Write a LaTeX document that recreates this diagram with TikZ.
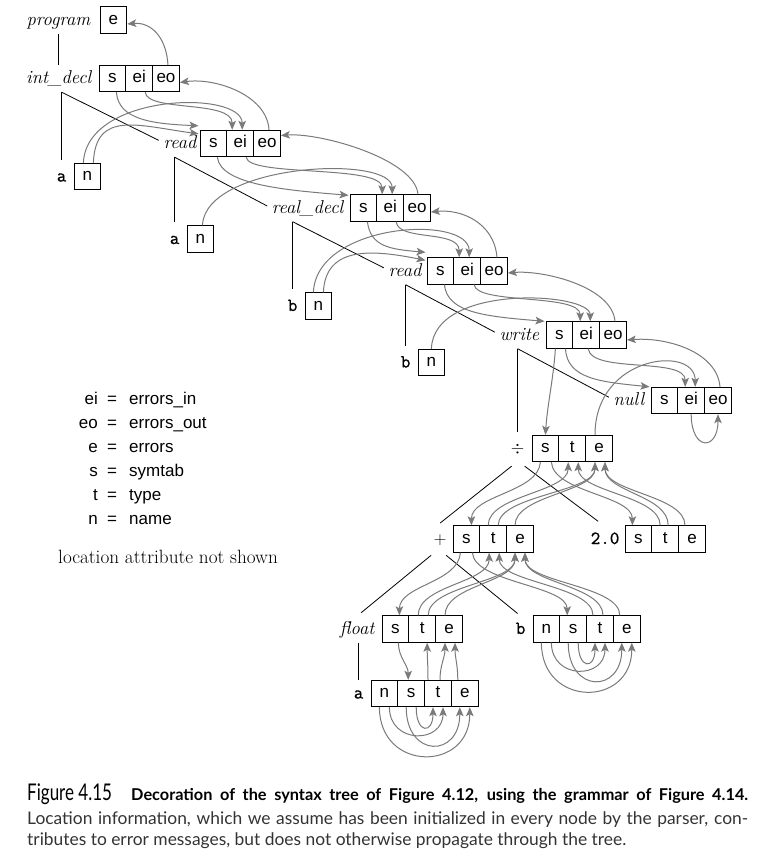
\documentclass[tikz,border=0pt]{standalone}
\usepackage{fontspec}
\setsansfont{Liberation Sans}
\newfontfamily\capfont{Lato}
\newfontfamily\tokfont{Latin Modern Mono}[AutoFakeBold=1]
\usetikzlibrary{arrows.meta}
\begin{document}
\begin{tikzpicture}[x=1pt,y=-1pt,
    cell/.style={draw,line width=0.9pt,minimum width=26.8pt,minimum height=26.5pt,inner sep=0pt,
      text height=10pt,text depth=1.4pt,font=\sffamily\fontsize{17}{20}\selectfont},
    nt/.style={inner sep=1pt,anchor=base east,font=\itshape\fontsize{18.6}{20}\selectfont},
    tok/.style={inner sep=1pt,anchor=base east,font=\tokfont\bfseries\fontsize{18.5}{20}\selectfont},
    key/.style={inner sep=0pt,font=\sffamily\fontsize{17}{20}\selectfont},
    tree/.style={line width=0.8pt},
    dep/.style={black!52,line width=1pt,-{Stealth[length=9pt,width=7.5pt,inset=2pt]}}]
  \useasboundingbox (0,0) rectangle (778,862);
  % attribute boxes: name / left edge / centre y / attributes
  \foreach \nd/\lx/\cy/\attrs in {pg/100/20/{e},id/99/78.5/{s,ei,eo},an1/74/176.5/{n},
      r1/200/143.5/{s,ei,eo},an2/187/239/{n},rd/350/208/{s,ei,eo},r2/427/271/{s,ei,eo},
      bn1/305/306/{n},wr/546/335/{s,ei,eo},bn2/418/362.5/{n},nl/651/400.5/{s,ei,eo},
      dv/532/448.5/{s,t,e},pl/453/539/{s,t,e},tw/625/539/{s,t,e},fl/382/629/{s,t,e},
      bv/533/629/{n,s,t,e},av/371/693.5/{n,s,t,e}}
    \foreach \a [count=\i] in \attrs
      \node[cell] (\nd-\a) at ({\lx+26.8*\i-13.4},\cy) {\a};
  % node labels
  \foreach \nd/\c/\g/\st/\txt in {pg/e/8/nt/program,id/s/6/nt/int\_decl,r1/s/2/nt/read,
      rd/s/5/nt/real\_decl,r2/s/4/nt/read,wr/s/5/nt/write,nl/s/5/nt/null,fl/s/6/nt/float,
      dv/s/6/nt/$\div$,pl/s/5/nt/$+$,tw/s/4/tok/2.0,bv/n/6/tok/b,av/n/6/tok/a,
      an1/n/6/tok/a,an2/n/6/tok/a,bn1/n/6/tok/b,bn2/n/6/tok/b}
    \node[\st] (\nd) at ([xshift=-\g pt,yshift=-5pt]\nd-\c.west) {\txt};
  % tree edges
  \draw[tree] (id |- pg-e.south) -- (id |- id-s.north);
  \foreach \p/\l/\lc/\k in {id/an1/n/r1,r1/an2/n/rd,rd/bn1/n/r2,r2/bn2/n/wr,wr/dv/s/nl}{
    \draw[tree,shorten >=3pt] (\l |- \p-s.south) -- (\l |- \l-\lc.north);
    \draw[tree,shorten >=4pt] (\l |- \p-s.south) -- (\k.west);}
  \draw[tree] ([xshift=-6pt,yshift=-10pt]dv.south) -- ([yshift=10pt]pl.north);
  \draw[tree] ([xshift=7pt,yshift=-10pt]dv.south) -- ([xshift=-7pt,yshift=10pt]tw.north);
  \draw[tree] ([xshift=-9pt,yshift=-9pt]pl.south) -- ([xshift=4pt,yshift=7pt]fl.north);
  \draw[tree] ([xshift=6pt,yshift=-9pt]pl.south) -- ([xshift=-3pt,yshift=8pt]bv.north);
  \draw[tree] (av |- fl-s.south) -- (av |- av-n.north);
  % attribute flow: declarations and statements
  \draw[dep] ([xshift=2pt]id-eo.north) .. controls +(-2,-30) and +(22,-2) .. ([yshift=-4pt]pg-e.east);
  \draw[dep] ([xshift=4pt]id-s.south) .. controls +(2,28) and +(-45,-2) .. ([xshift=-1pt,yshift=4pt]r1-s.north west);
  \draw[dep] ([xshift=6pt]id-ei.south) .. controls +(2,20) and +(0,-30) .. ([xshift=-8pt]r1-ei.north);
  \draw[dep] ([xshift=-4pt]an1-n.north) .. controls +(3,-70) and +(0,-40) .. ([xshift=2pt]r1-ei.north);
  \draw[dep] ([xshift=6pt]an1-n.north) .. controls +(2,-53) and +(-60,-8) .. ([xshift=-1pt,yshift=-4pt]r1-s.north west);
  \draw[dep] ([xshift=2pt]r1-eo.north) .. controls +(-2,-35) and +(35,-5) .. ([yshift=-4pt]id-eo.east);
  %
  \draw[dep] ([xshift=4pt]r1-s.south) .. controls +(3,28) and +(-60,-5) .. ([xshift=-1pt,yshift=-1pt]rd-s.north west);
  \draw[dep] ([xshift=6pt]r1-ei.south) .. controls +(2,20) and +(0,-30) .. ([xshift=-8pt]rd-ei.north);
  \draw[dep] ([xshift=2pt]an2-n.north) .. controls +(3,-62) and +(0,-40) .. ([xshift=2pt]rd-ei.north);
  \draw[dep] ([xshift=1pt]rd-eo.north) .. controls +(-3,-35) and +(40,-3) .. ([yshift=8pt]r1-eo.east);
  %
  \draw[dep] ([xshift=4pt]rd-s.south) .. controls +(3,25) and +(-35,-3) .. ([xshift=-1pt,yshift=5pt]r2-s.north west);
  \draw[dep] ([xshift=6pt]rd-ei.south) .. controls +(2,20) and +(0,-28) .. ([xshift=-8pt]r2-ei.north);
  \draw[dep] ([xshift=-5pt]bn1-n.north) .. controls +(3,-70) and +(0,-43) .. ([xshift=2pt]r2-ei.north);
  \draw[dep] ([xshift=5pt]bn1-n.north) .. controls +(2,-48) and +(-50,-10) .. ([xshift=-1pt,yshift=-3pt]r2-s.north west);
  \draw[dep] ([xshift=3pt]r2-eo.north) .. controls +(-3,-35) and +(30,-3) .. ([yshift=-4pt]rd-eo.east);
  %
  \draw[dep] ([xshift=4pt]r2-s.south) .. controls +(3,28) and +(-60,-5) .. ([xshift=-1pt]wr-s.north west);
  \draw[dep] ([xshift=7pt]r2-ei.south) .. controls +(2,20) and +(0,-28) .. ([xshift=-6pt]wr-ei.north);
  \draw[dep] (bn2-n.north) .. controls +(2,-66) and +(0,-29) .. ([xshift=4pt]wr-ei.north);
  \draw[dep] ([xshift=2pt]wr-eo.north) .. controls +(-3,-35) and +(35,-3) .. ([yshift=-2pt]r2-eo.east);
  %
  \draw[dep] ([xshift=-4pt]wr-s.south) .. controls +(-2,30) and +(2,-30) .. (dv-s.north);
  \draw[dep] ([xshift=6pt]wr-s.south) .. controls +(2,30) and +(-50,-5) .. ([xshift=-1pt]nl-s.north west);
  \draw[dep] ([xshift=2pt]wr-ei.south) .. controls +(3,25) and +(0,-30) .. ([xshift=-6pt]nl-ei.north);
  \draw[dep] ([xshift=-4pt]dv-e.north) .. controls +(0,-80) and +(0,-42) .. ([xshift=4pt]nl-ei.north);
  \draw[dep] ([xshift=2pt]nl-eo.north) .. controls +(-3,-35) and +(40,-3) .. ([yshift=-5pt]wr-eo.east);
  \draw[dep] (nl-ei.south) .. controls +(0,37) and +(0,37) .. (nl-eo.south);
  % attribute flow: expression
  \draw[dep] ([xshift=-5pt]dv-s.south) .. controls +(-2,30) and +(0,-30) .. ([xshift=5pt]pl-s.north);
  \draw[dep] ([xshift=6pt]dv-s.south) .. controls +(2,30) and +(0,-30) .. ([xshift=-6pt]tw-s.north);
  \foreach \f/\fx/\t/\tx in {t/-5/t/-4,t/5/e/-4,e/-5/e/-4}
    \draw[dep] ([xshift=\fx pt]pl-\f.north) .. controls +(0,-30) and +(0,30) .. ([xshift=\tx pt]dv-\t.south);
  \foreach \f/\fx/\t/\tx in {t/-5/t/6,t/3/e/6,e/-7/e/6}
    \draw[dep] ([xshift=\fx pt]tw-\f.north) .. controls +(0,-30) and +(0,30) .. ([xshift=\tx pt]dv-\t.south);
  \draw[dep] ([xshift=-6pt]pl-s.south) .. controls +(-2,30) and +(0,-30) .. ([xshift=4pt]fl-s.north);
  \draw[dep] ([xshift=6pt]pl-s.south) .. controls +(2,30) and +(0,-30) .. ([xshift=-6pt]bv-s.north);
  \foreach \f/\fx/\t/\tx in {t/-4/t/-4,t/6/e/-5,e/-4/e/-5}
    \draw[dep] ([xshift=\fx pt]fl-\f.north) .. controls +(0,-30) and +(0,30) .. ([xshift=\tx pt]pl-\t.south);
  \foreach \f/\fx/\t/\tx in {t/-7/t/6,t/3/e/5,e/-7/e/5}
    \draw[dep] ([xshift=\fx pt]bv-\f.north) .. controls +(0,-30) and +(0,30) .. ([xshift=\tx pt]pl-\t.south);
  \draw[dep] ([xshift=3pt]fl-s.south) .. controls +(0,15) and +(0,-15) .. ([xshift=-3pt]av-s.north);
  \foreach \f/\fx/\t/\tx in {t/-10/t/5,t/2/e/-4,e/-7/e/6}
    \draw[dep] ([xshift=\fx pt]av-\f.north) .. controls +(0,-15) and +(0,15) .. ([xshift=\tx pt]fl-\t.south);
  % leaves: type and errors from name and symtab
  \foreach \v in {av,bv}
    \foreach \f/\fx/\t/\tx/\d in {s/5/t/-5/27,n/5/t/5/37,s/-5/e/-5/51,n/-5/e/5/65}
      \draw[dep] ([xshift=\fx pt]\v-\f.south) .. controls +(0,\d) and +(0,\d) .. ([xshift=\tx pt]\v-\t.south);
  % legend
  \foreach \k/\v [count=\i] in {ei/errors\_in,eo/errors\_out,e/errors,s/symtab,t/type,n/name}{
    \node[key,anchor=base east] (k\i) at (98,{380+24*\i}) {\k};
    \node[key,anchor=base] (q\i) at (112,{380+24*\i}) {=};
    \node[key,anchor=base west] (v\i) at (129,{380+24*\i}) {\v};}
  \node[anchor=base west,inner sep=0pt,font=\fontsize{19.2}{22}\selectfont] (note) at (58,563) {location attribute not shown};
  % caption
  \node[anchor=base west,inner sep=0pt] (fig) at (27,800) {\capfont\fontsize{23}{24}\selectfont\scalebox{0.74}[1]{Figure 4.15}};
  \node[anchor=base west,inner sep=0pt] (cap1) at (131,800) {\capfont\bfseries\fontsize{16.3}{18}\selectfont\makebox[617pt][s]{Decoration of the syntax tree of Figure 4.12, using the grammar of Figure 4.14.}};
  \node[anchor=base west,inner sep=0pt,black!80] (cap2) at (27,824) {\capfont\fontsize{17.4}{18}\selectfont\makebox[721pt][s]{Location information, which we assume has been initialized in every node by the parser, con-}};
  \node[anchor=base west,inner sep=0pt,black!80] (cap3) at (27,845.5) {\capfont\fontsize{17.4}{18}\selectfont tributes to error messages, but does not otherwise propagate through the tree.};
\end{tikzpicture}
\end{document}
